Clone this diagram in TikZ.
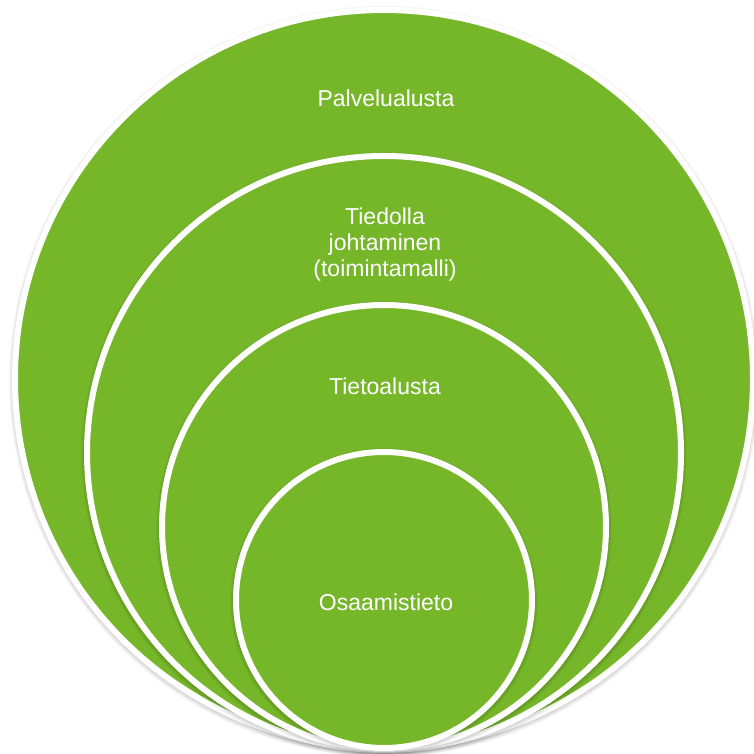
\documentclass[tikz,border=0pt]{standalone}
\usepackage{fontspec}
\setmainfont{Liberation Sans}
\definecolor{leafgreen}{RGB}{118,183,42}
\tikzset{
  ring/.style={fill=leafgreen, draw=white, line width=6pt},
  label/.style={text=white, font=\fontsize{23}{26}\selectfont, align=center}
}
\begin{document}
\begin{tikzpicture}[x=1pt,y=1pt]
  \useasboundingbox (0,0) rectangle (753,754);

  % nested circles, all touching at the bottom
  \foreach \r/\cy in {369/375, 297/301, 222/227, 148/154} {
    \foreach \k in {1,...,6} {
      \fill[black, opacity=0.035] (384,{\cy-2}) circle[radius=\r+\k];
    }
    \filldraw[ring] (384,\cy) circle[radius=\r];
  }

  \node[label, anchor=base] (palvelu) at (386,647) {Palvelualusta};
  \node[label] (johtaminen) at (385,509) {Tiedolla\\johtaminen\\(toimintamalli)};
  \node[label, anchor=base] (tietoalusta) at (385,359) {Tietoalusta};
  \node[label, anchor=base] (osaamis) at (386,143) {Osaamistieto};
\end{tikzpicture}
\end{document}
